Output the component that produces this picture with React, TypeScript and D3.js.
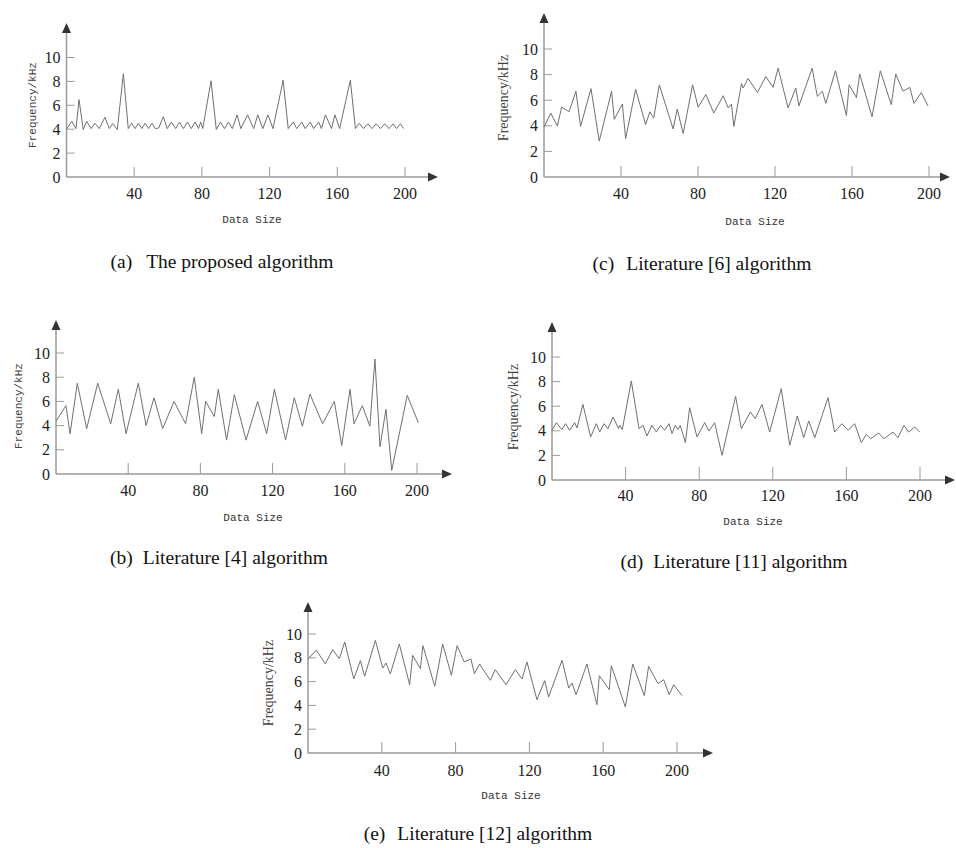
import React from 'react';
import * as d3 from 'd3';

// series values: [data size, frequency kHz]
const proposedSeries: [number, number][] = [
  [0, 4.0], [3.1, 4.67], [5.6, 4.05], [7.4, 6.47], [9.9, 3.97], [11.9, 4.67], [14.5, 4.05], [16.8, 4.5],
  [19.4, 4.05], [22.7, 5.0], [25.3, 4.05], [27.3, 4.47], [30, 3.97], [33.6, 8.64], [36.5, 4.05], [38.5, 4.5],
  [40.5, 4.05], [42.5, 4.5], [44.5, 4.05], [46.5, 4.5], [48.5, 4.05], [50.5, 4.5], [52.5, 4.05], [54.5, 4.1],
  [57.2, 5.05], [59.5, 4.05], [62, 4.6], [64.5, 4.05], [66.8, 4.6], [69, 4.05], [71.5, 4.6], [73.7, 4.05],
  [76, 4.6], [78, 4.05], [79.3, 4.6], [80.5, 4.05], [85.4, 8.05], [88.5, 3.97], [91, 4.6], [93.3, 4.05],
  [95.7, 4.6], [98, 4.05], [100.8, 5.2], [103, 4.05], [107, 5.2], [110.6, 4.05], [113, 5.2], [116, 4.05],
  [119, 5.2], [122, 4.05], [128, 8.1], [131, 4.05], [134, 4.6], [136, 4.05], [139, 4.6], [141, 4.05],
  [144, 4.6], [146, 4.05], [149, 4.6], [150.6, 4.05], [153, 5.2], [156.6, 4.05], [158.6, 5.2], [161.4, 4.05],
  [167.7, 8.1], [170.7, 4.05], [173, 4.5], [175.5, 4.05], [178, 4.45], [180.5, 4.05], [183, 4.45], [185.5, 4.05],
  [188, 4.45], [190.5, 4.05], [193, 4.45], [195, 4.05], [197.3, 4.45], [199.2, 4.05],
];

const lit4Series: [number, number][] = [
  [0, 4.35], [5.5, 5.65], [7.8, 3.33], [11.8, 7.5], [17, 3.75], [23.1, 7.5], [30.3, 4.15], [34.5, 7.0],
  [38.8, 3.33], [45.6, 7.5], [49.9, 4.0], [54.3, 6.3], [59.1, 3.75], [65.4, 6.0], [71.8, 4.15], [76.6, 8.0],
  [80.7, 3.33], [82.9, 6.0], [87.7, 4.75], [89.9, 7.0], [94.5, 2.8], [98.8, 6.55], [105.3, 2.8], [111.7, 6.0],
  [116.7, 3.33], [121, 7.0], [127.2, 2.8], [132, 6.3], [136.5, 3.95], [140.7, 6.6], [147.7, 4.15], [154.2, 6.0],
  [158.3, 2.35], [162.9, 7.0], [165.1, 4.15], [169.7, 5.65], [173.9, 3.95], [176.7, 9.5], [179.5, 2.25],
  [182.8, 5.35], [186, 0.3], [194.6, 6.5], [200.7, 4.25],
];

const lit6Series: [number, number][] = [
  [0, 3.9], [3.5, 5.0], [6.9, 4.0], [9.2, 5.45], [13, 5.1], [16.6, 6.7], [19, 3.95], [24.4, 6.9],
  [28.7, 2.8], [35.1, 6.7], [36.5, 4.5], [40.7, 5.7], [42.4, 3.0], [47.6, 6.85], [52.8, 4.1], [55, 5.1],
  [57, 4.6], [59.9, 7.2], [67.1, 3.75], [69.2, 5.3], [72.3, 3.4], [77.2, 7.2], [80.1, 5.45], [84.1, 6.45],
  [88.2, 5.0], [93.1, 6.35], [95.7, 5.4], [97.4, 5.7], [98.6, 3.95], [102.6, 7.3], [103.5, 6.95], [106, 7.7],
  [110.9, 6.6], [115.2, 7.85], [119, 7.0], [121.6, 8.5], [126.8, 5.4], [130.8, 6.95], [132.4, 5.55],
  [139.3, 8.5], [142, 6.3], [144.6, 6.7], [146.4, 5.75], [151.4, 8.3], [157.1, 4.8], [158.5, 7.2],
  [162.3, 6.2], [164, 8.05], [170.4, 4.7], [174.7, 8.3], [180.4, 5.65], [182.7, 8.05], [186.5, 6.7],
  [190, 7.0], [192.2, 5.75], [196, 6.6], [199.5, 5.55],
];

const lit11Series: [number, number][] = [
  [0, 4.04], [2.4, 4.66], [5.4, 4.1], [7.4, 4.58], [9.6, 4.04], [12.3, 4.66], [13.6, 4.23], [16.8, 6.15],
  [21, 3.5], [24.1, 4.58], [25.9, 3.9], [28.3, 4.58], [30.4, 4.17], [33.2, 5.12], [36.2, 4.17], [36.8, 4.44],
  [38.2, 4.1], [43.1, 8.05], [47.3, 4.17], [49.5, 4.44], [51.6, 3.58], [54.3, 4.44], [56.7, 3.9], [59, 4.44],
  [61.2, 4.04], [63.6, 4.58], [65.2, 3.77], [67, 4.44], [68.5, 4.1], [69.7, 4.44], [72.5, 3.04], [74.8, 5.88],
  [78.8, 3.5], [83, 4.66], [85.3, 3.98], [88.4, 4.66], [92.4, 2.0], [99.8, 6.8], [102.9, 4.17], [107.8, 5.53],
  [110.5, 4.99], [114.1, 6.15], [118.3, 3.9], [124.6, 7.43], [129.2, 2.82], [133.3, 5.2], [136.8, 3.44],
  [139.5, 4.8], [142.8, 3.44], [150, 6.7], [153.6, 3.9], [157.6, 4.58], [160.9, 4.04], [164.5, 4.58],
  [168.1, 3.04], [170.8, 3.71], [173.2, 3.36], [177.5, 3.82], [180.4, 3.36], [185.3, 3.9], [188, 3.44],
  [191.3, 4.44], [193.8, 3.9], [197.1, 4.31], [199.8, 3.9],
];

const lit12Series: [number, number][] = [
  [0, 7.9], [4.5, 8.63], [9.4, 7.5], [13.4, 8.68], [17, 7.93], [19.9, 9.33], [24.8, 6.22], [28.4, 7.76],
  [30.7, 6.44], [36.5, 9.47], [40.5, 7.14], [42.3, 7.56], [44.6, 6.64], [49.5, 9.16], [55.1, 5.74], [56.7, 8.21],
  [60.9, 7.09], [62.3, 9.02], [68.7, 5.6], [73, 9.16], [77.7, 6.53], [80.8, 9.02], [84.7, 7.65], [88.3, 7.9],
  [90.2, 6.67], [93, 7.48], [98.8, 6.11], [101.5, 7.0], [107.3, 5.74], [112.4, 7.0], [116, 6.22], [118.7, 7.65],
  [124.1, 4.48], [128.3, 6.08], [130.4, 4.71], [137.7, 7.79], [141.3, 5.46], [143.1, 5.88], [145.3, 4.9],
  [151.2, 7.48], [156.6, 4.06], [157.9, 6.5], [163.3, 5.32], [164.4, 7.34], [172, 3.87], [176, 7.48],
  [182.3, 4.82], [184.6, 7.28], [189.7, 5.83], [192.8, 6.16], [195.8, 4.9], [198.2, 5.74], [202.7, 4.82],
];

const xTicks = [40, 80, 120, 160, 200];
const yTicks = [0, 2, 4, 6, 8, 10];
const xTitle = 'Data Size';
const yTitle = 'Frequency/kHz';

const panels = [
  { tag: '(a)', name: 'The proposed algorithm', data: proposedSeries, ox: 66.5, oy: 177, x200: 405, y10: 57.5, top: 23, right: 438, tick: 10, labelY: 199, titleX: 252, titleY: 223, yTitleX: 32, yTitleY: 105, yMono: true, capX: 222, capY: 268, gap: 14 },
  { tag: '(c)', name: 'Literature [6] algorithm', data: lit6Series, ox: 544, oy: 177, x200: 929, y10: 49, top: 13, right: 950, tick: 11, labelY: 199, titleX: 755, titleY: 225, yTitleX: 503, yTitleY: 98, yMono: false, capX: 702, capY: 270, gap: 12 },
  { tag: '(b)', name: 'Literature [4] algorithm', data: lit4Series, ox: 56, oy: 474, x200: 417, y10: 353, top: 320, right: 452, tick: 11, labelY: 496, titleX: 253, titleY: 521, yTitleX: 18, yTitleY: 406, yMono: true, capX: 219, capY: 564, gap: 10 },
  { tag: '(d)', name: 'Literature [11] algorithm', data: lit11Series, ox: 552, oy: 480, x200: 920, y10: 357, top: 322, right: 955, tick: 13, labelY: 501, titleX: 753, titleY: 525, yTitleX: 513, yTitleY: 407, yMono: false, capX: 734, capY: 568, gap: 10 },
  { tag: '(e)', name: 'Literature [12] algorithm', data: lit12Series, ox: 308, oy: 753, x200: 677, y10: 634, top: 602, right: 713, tick: 11, labelY: 776, titleX: 511, titleY: 799, yTitleX: 268, yTitleY: 683, yMono: false, capX: 478, capY: 840, gap: 12 },
];

const axisColor = '#9a9a9a';
const lineColor = '#707070';
const serif = '"Liberation Serif", "DejaVu Serif", serif';
const mono = '"Liberation Mono", "DejaVu Sans Mono", monospace';

const Panel = ({ p }) => {
  const x = d3.scaleLinear().domain([0, 200]).range([p.ox, p.x200]);
  const y = d3.scaleLinear().domain([0, 10]).range([p.oy, p.y10]);
  const line = d3.line<[number, number]>().x(d => x(d[0])).y(d => y(d[1]));
  return (
    <g>
      {/* axes */}
      <line x1={p.ox} x2={p.ox} y1={p.oy} y2={p.top + 8} stroke={axisColor} strokeWidth={1.5} />
      <line x1={p.ox} x2={p.right - 8} y1={p.oy} y2={p.oy} stroke={axisColor} strokeWidth={1.5} />
      <path d={`M${p.ox},${p.top} L${p.ox - 4.5},${p.top + 10} L${p.ox + 4.5},${p.top + 10} Z`} fill="#333" />
      <path d={`M${p.right},${p.oy} L${p.right - 10},${p.oy - 4.5} L${p.right - 10},${p.oy + 4.5} Z`} fill="#333" />
      {yTicks.filter(t => t > 0).map(t => (
        <line key={t} x1={p.ox} x2={p.ox + 8} y1={y(t)} y2={y(t)} stroke={axisColor} strokeWidth={1} />
      ))}
      {xTicks.map(t => (
        <line key={t} x1={x(t)} x2={x(t)} y1={p.oy} y2={p.oy - p.tick} stroke={axisColor} strokeWidth={1} />
      ))}
      {yTicks.map(t => (
        <text key={t} x={p.ox - 6} y={y(t)} dy="0.35em" textAnchor="end" fontFamily={serif} fontSize={16} fill="#222">{t}</text>
      ))}
      {xTicks.map(t => (
        <text key={t} x={x(t)} y={p.labelY} textAnchor="middle" fontFamily={serif} fontSize={16} fill="#222">{t}</text>
      ))}
      <text x={p.titleX} y={p.titleY} textAnchor="middle" fontFamily={mono} fontSize={11} fill="#333">{xTitle}</text>
      <text transform={`translate(${p.yTitleX},${p.yTitleY}) rotate(-90)`} dy="0.35em" textAnchor="middle"
        fontFamily={p.yMono ? mono : serif} fontSize={p.yMono ? 11 : 14} fill="#444">{yTitle}</text>
      <path d={line(p.data) || ''} fill="none" stroke={lineColor} strokeWidth={1} strokeLinejoin="miter" />
      <text x={p.capX} y={p.capY} textAnchor="middle" fontFamily={serif} fontSize={19.5} fill="#111">
        <tspan>{p.tag}</tspan>
        <tspan dx={p.gap}>{p.name}</tspan>
      </text>
    </g>
  );
};

export default function App() {
  return (
    <svg width={956} height={848} style={{ position: 'absolute', left: 0, top: 0, background: '#fff' }}>
      <rect width={956} height={848} fill="#fff" />
      {panels.map(p => <Panel key={p.tag} p={p} />)}
    </svg>
  );
}
